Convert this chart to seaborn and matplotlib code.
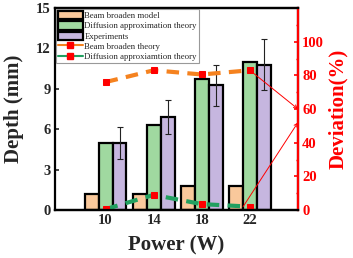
import numpy as np
import pandas as pd
import matplotlib
matplotlib.use("Agg")
import matplotlib.pyplot as plt
import seaborn as sns
from matplotlib.patches import Patch
from matplotlib.lines import Line2D

power = ["10", "14", "18", "22"]
beam_model = [1.2, 1.2, 1.8, 1.8]
diffusion_model = [5.0, 6.3, 9.7, 11.0]
experiments = [5.0, 6.9, 9.25, 10.8]
exp_err = [1.2, 1.25, 1.5, 1.9]

dev_beam = [76, 83, 80.5, 83]
dev_diffusion = [0.5, 9, 3.5, 2]

series = ["Beam broaden model", "Diffusion approximation theory", "Experiments"]
bar_colors = ["#F9C89B", "#A0D9A0", "#C6B6DF"]

sns.set_style("white")
plt.rcParams["font.family"] = ["Liberation Serif", "DejaVu Serif"]
plt.rcParams["font.weight"] = "bold"


def main():
    df = pd.DataFrame({
        "power": power * 3,
        "depth": beam_model + diffusion_model + experiments,
        "series": np.repeat(series, len(power)),
    })

    fig = plt.figure(figsize=(3.53, 2.58), dpi=100)
    ax = fig.add_axes([0.156, 0.186, 0.688, 0.783])

    sns.barplot(df, x="power", y="depth", hue="series", palette=bar_colors,
                saturation=1, width=0.87, edgecolor="k", linewidth=1.6,
                legend=False, ax=ax)

    # error bars on the experiment bars
    exp_bars = ax.containers[2]
    xs = [b.get_x() + b.get_width() / 2 for b in exp_bars]
    ax.errorbar(xs, experiments, yerr=exp_err, fmt="none", ecolor="#222222",
                elinewidth=0.8, capsize=2.5, capthick=0.8, zorder=5)

    ax.set_xlim(-1.05, 4.0)
    ax.set_ylim(0, 15)
    ax.set_yticks([0, 3, 6, 9, 12, 15])
    ax.set_xlabel("Power (W)", fontsize=15, fontweight="bold", labelpad=6)
    ax.set_ylabel("Depth (mm)", fontsize=15, fontweight="bold", labelpad=9)
    ax.tick_params(direction="in", length=3, width=1.2, labelsize=10.5, pad=3)
    for lab in ax.get_xticklabels() + ax.get_yticklabels():
        lab.set_fontweight("bold")
    for s in ax.spines.values():
        s.set_linewidth(1.6)
        s.set_color("k")

    ax2 = ax.twinx()
    xpos = np.arange(len(power))
    sns.lineplot(x=xpos, y=dev_beam, ax=ax2, color="#F5821F", lw=3,
                 dashes=False, marker="s", markersize=5,
                 markerfacecolor="red", markeredgecolor="red")
    sns.lineplot(x=xpos, y=dev_diffusion, ax=ax2, color="#21A060", lw=3,
                 dashes=False, marker="s", markersize=5,
                 markerfacecolor="red", markeredgecolor="red")
    for ln in ax2.lines:
        ln.set_linestyle((0, (3, 2)))

    ax2.set_ylim(0, 120)
    ax2.set_yticks([0, 20, 40, 60, 80, 100])
    ax2.set_yticks(np.arange(10, 120, 20), minor=True)
    ax2.set_ylabel("Deviation(%)", fontsize=15, fontweight="bold", color="red",
                   labelpad=3)
    ax2.tick_params(axis="y", which="major", direction="in", length=3, width=1.2,
                    colors="red", labelsize=10.5, pad=3)
    ax2.tick_params(axis="y", which="minor", direction="in", length=1.5,
                    width=1, colors="red")
    for lab in ax2.get_yticklabels():
        lab.set_fontweight("bold")
    for s in ax2.spines.values():
        s.set_linewidth(1.6)
        s.set_color("k")
    ax2.spines["right"].set_color("red")
    ax2.spines["left"].set_visible(False)
    ax2.set_xlim(-1.05, 4.0)

    # arrows pointing to the deviation axis
    ax2.annotate("", xy=(1.0, 60), xycoords=("axes fraction", "data"),
                 xytext=(3, dev_beam[3]), textcoords="data",
                 arrowprops=dict(arrowstyle="->", color="red", lw=0.7,
                                 shrinkA=2, shrinkB=0, mutation_scale=6))
    ax2.annotate("", xy=(1.0, 52), xycoords=("axes fraction", "data"),
                 xytext=(2.86, dev_diffusion[3]), textcoords="data",
                 arrowprops=dict(arrowstyle="->", color="red", lw=0.7,
                                 shrinkA=0, shrinkB=0, mutation_scale=6))

    handles = [Patch(facecolor=c, edgecolor="k", linewidth=1.6) for c in bar_colors]
    handles += [
        Line2D([], [], color="#F5821F", lw=1.5, marker="s", markersize=4,
               markerfacecolor="red", markeredgecolor="red"),
        Line2D([], [], color="#21A060", lw=1.5, marker="s", markersize=4,
               markerfacecolor="red", markeredgecolor="red"),
    ]
    labels = series + ["Beam broaden theory", "Diffusion approxiamtion theory"]
    leg = ax2.legend(handles, labels, loc="upper left", bbox_to_anchor=(0.0, 1.0),
                     prop={"size": 6.3, "weight": "normal"}, frameon=True,
                     fancybox=False, edgecolor="#999999", framealpha=1,
                     handlelength=2.8, handleheight=1.1, handletextpad=0.2,
                     labelspacing=0.12, borderpad=0.2, borderaxespad=0.15)
    leg.get_frame().set_linewidth(0.8)

    fig.savefig("out.png", dpi=100)


if __name__ == "__main__":
    main()
